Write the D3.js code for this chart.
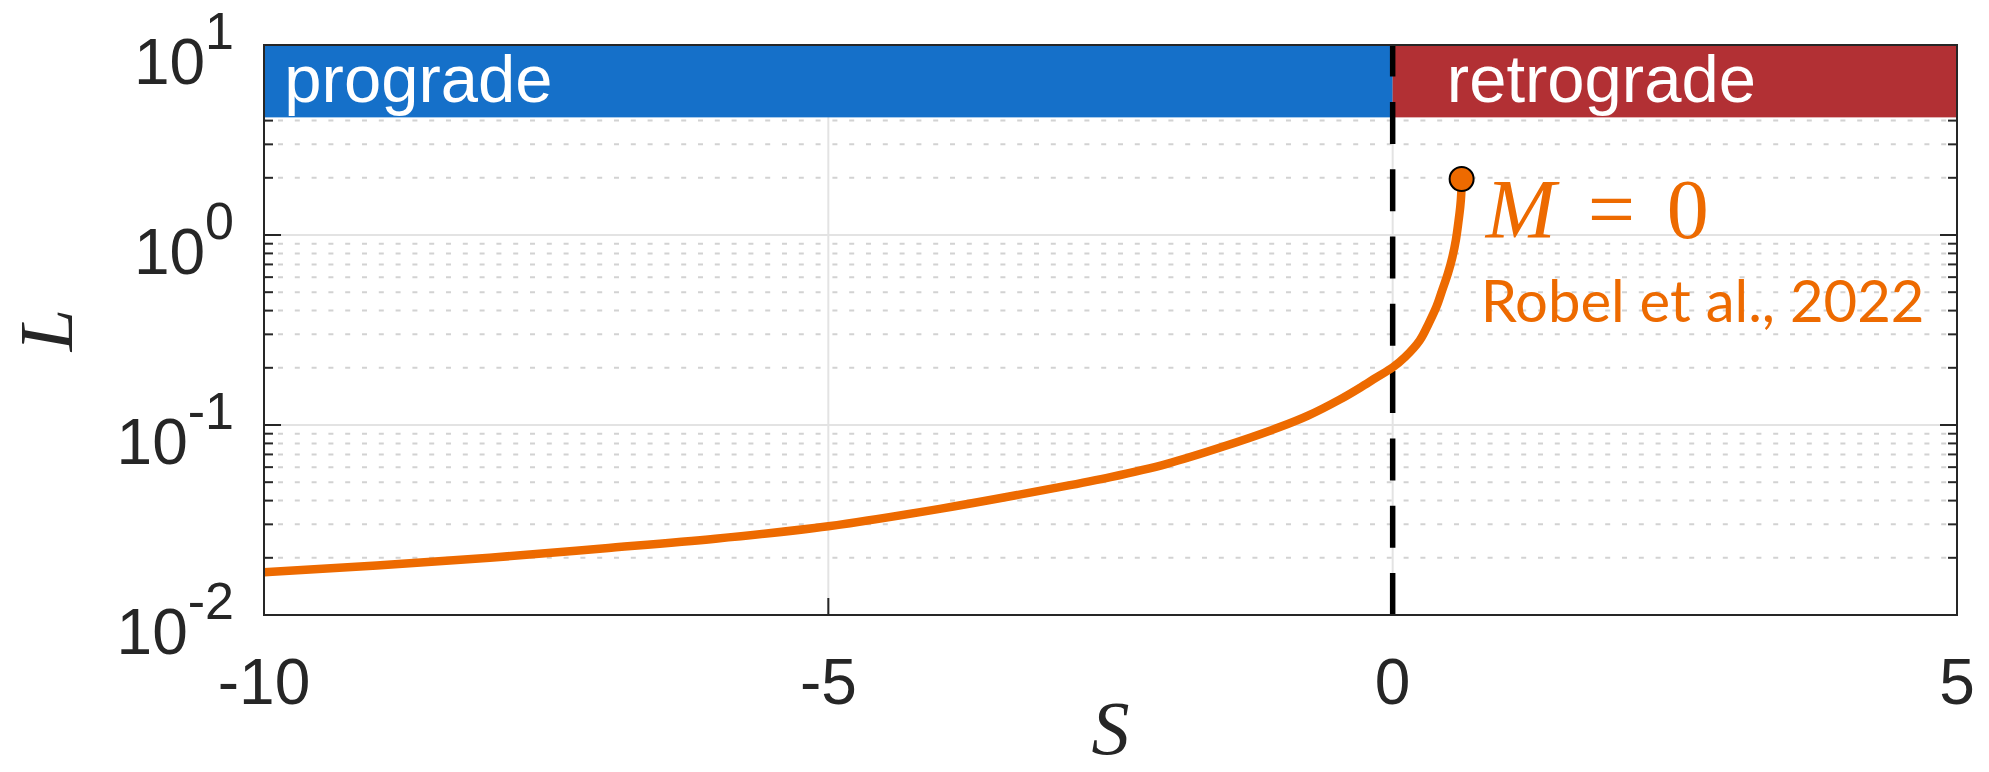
<!DOCTYPE html>
<html>
<head>
<meta charset="utf-8">
<script src="https://cdn.jsdelivr.net/npm/d3@7"></script>
<style>
  body { margin: 0; background: #ffffff; }
  svg { display: block; }
</style>
</head>
<body>
<svg id="chart" width="1989" height="772"></svg>
<script>
// ---- data -------------------------------------------------------------
// Intrusion length L against bed-slope parameter S for M = 0
const curveS = [-10, -9, -8, -7, -6, -5, -4, -3, -2.5, -2, -1.5, -1, -0.75, -0.47, -0.29, -0.15,
                0, 0.11, 0.24, 0.32, 0.39, 0.44, 0.49, 0.53, 0.56, 0.581, 0.599, 0.608, 0.611];
const curveL = [0.0168, 0.0182, 0.0200, 0.0224, 0.0252, 0.0293, 0.0363, 0.0465, 0.0532, 0.0625, 0.0770, 0.0975, 0.112, 0.136, 0.157, 0.177,
                0.201, 0.228, 0.279, 0.343, 0.422, 0.514, 0.629, 0.769, 0.942, 1.153, 1.41, 1.66, 1.97];
const endpointS = 0.611;
const endpointL = 1.97;

const xTickValues = [-10, -5, 0, 5];
const yTickExponents = [-2, -1, 0, 1];

const regimeLabels = ["prograde", "retrograde"];
const regimeEdges = [-10, 0, 5];
const regimeLabelS = [-9.82, 0.48];
const bandFloorL = 4.16;

const curveLabel = "M = 0";
const sourceLabel = "Robel et al., 2022";

// ---- styles -----------------------------------------------------------
const regimeColors = ["#1570C9", "#B23034"];
const curveColor = "#ED6A00";
const axisColor = "#262626";
const sans = "'Liberation Sans', Arial, Helvetica, sans-serif";
const serif = "'Liberation Serif', 'Times New Roman', serif";

// ---- layout -----------------------------------------------------------
const plot = { left: 264, right: 1957, top: 45, bottom: 615 };

const svg = d3.select("#chart");

const x = d3.scaleLinear().domain([-10, 5]).range([plot.left, plot.right]);
const y = d3.scaleLog().domain([0.01, 10]).range([plot.bottom, plot.top]);

// minor log positions 2..9 in each decade
const minorValues = [];
yTickExponents.slice(0, -1).forEach(e => {
  for (let k = 2; k <= 9; k++) minorValues.push(k * Math.pow(10, e));
});
const majorValues = yTickExponents.map(e => Math.pow(10, e));

// ---- grid -------------------------------------------------------------
const grid = svg.append("g");
grid.selectAll("line.minor").data(minorValues).enter().append("line")
  .attr("x1", plot.left).attr("x2", plot.right)
  .attr("y1", d => y(d)).attr("y2", d => y(d))
  .attr("stroke", "#d2d2d2").attr("stroke-width", 2)
  .attr("stroke-dasharray", "5,11.8").attr("stroke-dashoffset", -14);
grid.selectAll("line.major").data(majorValues).enter().append("line")
  .attr("x1", plot.left).attr("x2", plot.right)
  .attr("y1", d => y(d)).attr("y2", d => y(d))
  .attr("stroke", "#e3e3e3").attr("stroke-width", 2);
grid.selectAll("line.vert").data(xTickValues.slice(1, -1)).enter().append("line")
  .attr("x1", d => x(d)).attr("x2", d => x(d))
  .attr("y1", plot.top).attr("y2", plot.bottom)
  .attr("stroke", "#e3e3e3").attr("stroke-width", 2);

// ---- ticks (drawn inside the box) -------------------------------------
const ticks = svg.append("g").attr("stroke", axisColor).attr("stroke-width", 2);
[plot.left, plot.right].forEach((edge, i) => {
  const dir = i === 0 ? 1 : -1;
  majorValues.forEach(v => ticks.append("line")
    .attr("x1", edge).attr("x2", edge + dir * 17).attr("y1", y(v)).attr("y2", y(v)));
  minorValues.forEach(v => ticks.append("line")
    .attr("x1", edge).attr("x2", edge + dir * 9).attr("y1", y(v)).attr("y2", y(v)));
});
xTickValues.forEach(v => {
  ticks.append("line").attr("x1", x(v)).attr("x2", x(v))
    .attr("y1", plot.bottom).attr("y2", plot.bottom - 17);
  ticks.append("line").attr("x1", x(v)).attr("x2", x(v))
    .attr("y1", plot.top).attr("y2", plot.top + 17);
});

// ---- regime band ------------------------------------------------------
const band = svg.append("g");
regimeLabels.forEach((name, i) => {
  band.append("rect")
    .attr("x", x(regimeEdges[i]))
    .attr("y", y(10))
    .attr("width", x(regimeEdges[i + 1]) - x(regimeEdges[i]))
    .attr("height", y(bandFloorL) - y(10))
    .attr("fill", regimeColors[i]);
  band.append("text")
    .attr("x", x(regimeLabelS[i]))
    .attr("y", y(5.0))
    .attr("fill", "#ffffff")
    .attr("font-family", sans)
    .attr("font-size", 67)
    .text(name);
});

// ---- S = 0 divider ----------------------------------------------------
svg.append("line")
  .attr("x1", x(0)).attr("x2", x(0))
  .attr("y1", y(0.01)).attr("y2", y(10))
  .attr("stroke", "#000000").attr("stroke-width", 5.5)
  .attr("stroke-dasharray", "42,25.3");

// ---- curve ------------------------------------------------------------
const pts = curveS.map((s, i) => [s, curveL[i]]);
const line = d3.line()
  .x(d => x(d[0]))
  .y(d => y(d[1]))
  .curve(d3.curveCatmullRom.alpha(0.5));
svg.append("path")
  .attr("d", line(pts))
  .attr("fill", "none")
  .attr("stroke", curveColor)
  .attr("stroke-width", 8.5)
  .attr("stroke-linejoin", "round");

svg.append("circle")
  .attr("cx", x(endpointS)).attr("cy", y(endpointL)).attr("r", 12)
  .attr("fill", curveColor).attr("stroke", "#000000").attr("stroke-width", 2);

// ---- annotations ------------------------------------------------------
const ex = x(endpointS), ey = y(endpointL);
const parts = curveLabel.split(" ");
const ann = svg.append("text")
  .attr("y", ey + 59)
  .attr("fill", curveColor)
  .attr("font-family", serif)
  .attr("font-size", 84);
ann.append("tspan").attr("x", ex + 24).attr("font-style", "italic").text(parts[0]);
ann.append("tspan").attr("x", ex + 126).text(parts[1]);
ann.append("tspan").attr("x", ex + 205).text(parts[2]);

svg.append("text")
  .attr("x", ex + 19)
  .attr("y", ey + 143)
  .attr("fill", curveColor)
  .attr("font-family", "Lato, 'Open Sans', sans-serif")
  .attr("font-size", 58)
  .text(sourceLabel);

// ---- frame ------------------------------------------------------------
svg.append("rect")
  .attr("x", plot.left).attr("y", plot.top)
  .attr("width", plot.right - plot.left).attr("height", plot.bottom - plot.top)
  .attr("fill", "none").attr("stroke", axisColor).attr("stroke-width", 2);

// ---- tick labels ------------------------------------------------------
svg.append("g").selectAll("text").data(xTickValues).enter().append("text")
  .attr("x", d => x(d)).attr("y", 704)
  .attr("text-anchor", "middle")
  .attr("fill", axisColor)
  .attr("font-family", sans).attr("font-size", 64)
  .text(d => String(d));

const yl = svg.append("g").selectAll("text").data(yTickExponents).enter().append("text")
  .attr("x", 234).attr("y", d => y(Math.pow(10, d)) + 39)
  .attr("text-anchor", "end")
  .attr("fill", axisColor)
  .attr("font-family", sans).attr("font-size", 64);
yl.append("tspan").text("10");
yl.append("tspan").attr("dy", -35).attr("font-size", 52).text(d => String(d));

// ---- axis titles ------------------------------------------------------
svg.append("text")
  .attr("x", (plot.left + plot.right) / 2).attr("y", 754)
  .attr("text-anchor", "middle")
  .attr("fill", axisColor)
  .attr("font-family", serif).attr("font-style", "italic").attr("font-size", 76)
  .text("S");

svg.append("text")
  .attr("transform", `translate(72,${(plot.top + plot.bottom) / 2}) rotate(-90)`)
  .attr("text-anchor", "middle")
  .attr("fill", axisColor)
  .attr("font-family", serif).attr("font-style", "italic").attr("font-size", 76)
  .text("L");
</script>
</body>
</html>
